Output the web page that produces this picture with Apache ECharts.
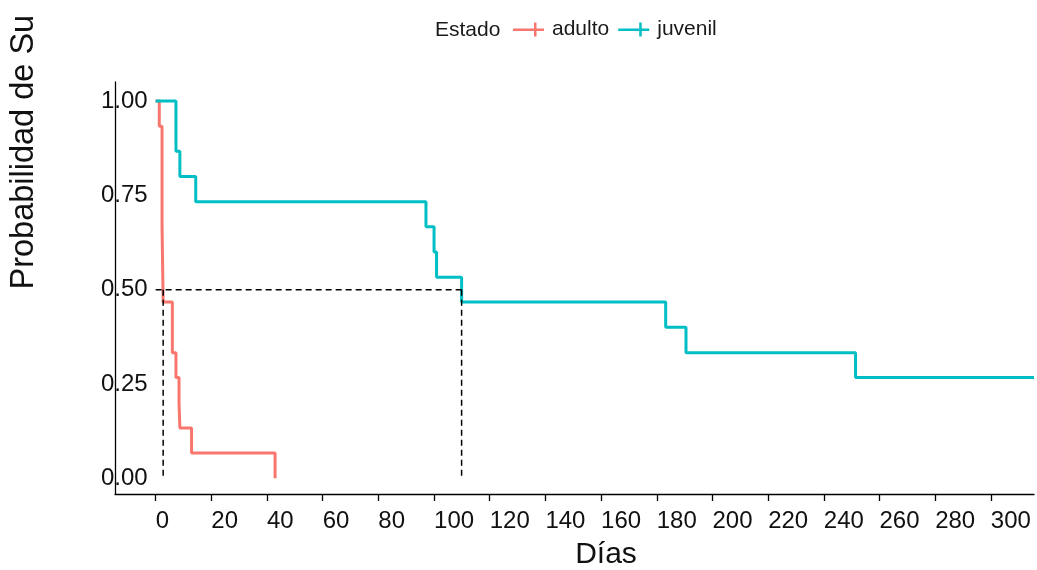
<!DOCTYPE html>
<html>
<head>
<meta charset="utf-8">
<script src="https://cdn.jsdelivr.net/npm/echarts@6/dist/echarts.min.js"></script>
<style>html,body{margin:0;padding:0;background:#fff}#c{width:1037px;height:570px}</style>
</head>
<body>
<div id="c"></div>
<script>
// Kaplan-Meier step data: [day, survival]
const adultoTimes = [0, 1.3, 2.3, 2.7, 6.0, 7.3, 8.4, 8.7, 12.9, 42.9];
const adultoSurv  = [1, 0.933, 0.667, 0.467, 0.333, 0.267, 0.2, 0.133, 0.067, 0];
const juvenilTimes = [0, 7.3, 8.7, 14.4, 97.1, 100.0, 100.9, 109.9, 183.2, 190.5, 251.4, 315.5];
const juvenilSurv  = [1, 0.867, 0.8, 0.733, 0.667, 0.6, 0.533, 0.467, 0.4, 0.333, 0.267, 0.267];
const medianTimes = [2.7, 109.9];
const xTicks = [0,20,40,60,80,100,120,140,160,180,200,220,240,260,280,300];
const yTicks = [0, 0.25, 0.5, 0.75, 1];
const seriesNames = ['adulto', 'juvenil'];
const colors = ['#F8766D', '#00BFC4'];

const toPts = (t, s) => t.map((v, i) => [v, s[i]]);
const font = 'Liberation Sans, Arial, sans-serif';
const legendIcon = 'path://M0,6L31,6L31,8.5L0,8.5Z M21,0L23.5,0L23.5,14L21,14Z';

const chart = echarts.init(document.getElementById('c'), null, {renderer: 'canvas'});
const dashStyle = {color: '#000', width: 1.5, type: [6, 4]};
chart.setOption({
  animation: false,
  backgroundColor: '#fff',
  grid: {left: 115, right: 3, top: 82, bottom: 76, containLabel: false},
  legend: {
    data: seriesNames,
    left: 513, top: 19, padding: 0,
    icon: legendIcon, itemWidth: 31, itemHeight: 14, itemGap: 9,
    itemStyle: {borderWidth: 0},
    textStyle: {fontFamily: font, fontSize: 21, color: '#1a1a1a', padding: [0, 0, 0, 3]}
  },
  xAxis: {
    type: 'value', min: -14.6, max: 315.5,
    splitLine: {show: false},
    axisLine: {show: true, onZero: false, lineStyle: {color: '#000', width: 1.3}},
    axisTick: {show: true, length: 7, customValues: xTicks, lineStyle: {color: '#000', width: 1.3}},
    axisLabel: {customValues: xTicks, align: 'left', margin: 15, fontFamily: font, fontSize: 24, color: '#111',
      formatter: v => String(v)}
  },
  yAxis: {
    type: 'value', min: -0.0418, max: 1.0506,
    splitLine: {show: false},
    axisLine: {show: true, onZero: false, lineStyle: {color: '#000', width: 1.3}},
    axisTick: {show: false},
    axisLabel: {customValues: yTicks, align: 'left', margin: 14, fontFamily: font, fontSize: 24, color: '#111',
      padding: [5, 0, 0, 0], formatter: v => v.toFixed(2)}
  },
  graphic: [
    {type: 'text', x: 435, y: 30, style: {text: 'Estado', fontFamily: font, fontSize: 21, fill: '#1a1a1a', textAlign: 'left', textVerticalAlign: 'middle'}},
    {type: 'text', x: 606, y: 555, style: {text: 'Días', fontFamily: font, fontSize: 30, fill: '#111', textAlign: 'center', textVerticalAlign: 'middle'}},
    {type: 'text', x: 24, y: 289.5, rotation: Math.PI / 2, style: {text: 'Probabilidad de Sup', fontFamily: font, fontSize: 32.5, fill: '#111', textAlign: 'left', textVerticalAlign: 'middle'}, z: 10},
    {type: 'rect', shape: {x: 0, y: 0, width: 80, height: 15}, style: {fill: '#fff'}, z: 20}
  ],
  series: [
    {name: seriesNames[0], type: 'line', step: 'end', showSymbol: false, data: toPts(adultoTimes, adultoSurv),
      itemStyle: {color: colors[0]}, lineStyle: {color: colors[0], width: 3}, z: 2},
    {name: seriesNames[1], type: 'line', step: 'end', showSymbol: false, data: toPts(juvenilTimes, juvenilSurv),
      itemStyle: {color: colors[1]}, lineStyle: {color: colors[1], width: 3}, z: 3},
    {name: 'medH', type: 'line', showSymbol: false, data: [[0, 0.5], [medianTimes[1], 0.5]], lineStyle: dashStyle, z: 4},
    {name: 'medV1', type: 'line', showSymbol: false, data: [[medianTimes[0], 0.5], [medianTimes[0], 0]], lineStyle: dashStyle, z: 4},
    {name: 'medV2', type: 'line', showSymbol: false, data: [[medianTimes[1], 0.5], [medianTimes[1], 0]], lineStyle: dashStyle, z: 4}
  ]
});
</script>
</body>
</html>
